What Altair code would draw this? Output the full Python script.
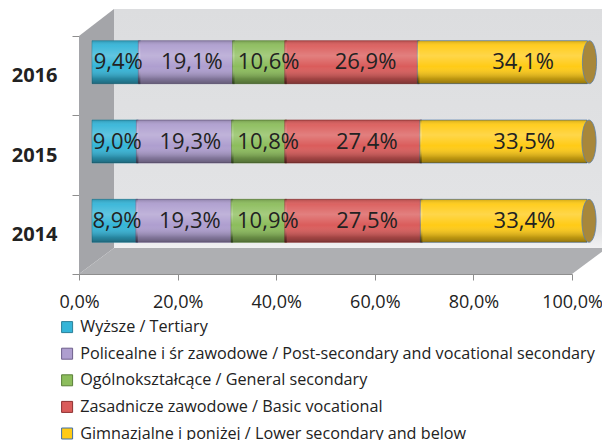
import altair as alt
import pandas as pd

years = ["2016", "2015", "2014"]
categories = [
    "Wyższe / Tertiary",
    "Policealne i śr zawodowe / Post-secondary and vocational secondary",
    "Ogólnokształcące / General secondary",
    "Zasadnicze zawodowe / Basic vocational",
    "Gimnazjalne i poniżej / Lower secondary and below",
]
colors = ["#35B5D8", "#AE9ECF", "#8CBD5C", "#DA5C5B", "#FFCB16"]
strokes = ["#2A7F99", "#6E5F8C", "#5A7F38", "#8E3030", "#3F6FA8"]
values = {
    "2016": [9.4, 19.1, 10.6, 26.9, 34.1],
    "2015": [9.0, 19.3, 10.8, 27.4, 33.5],
    "2014": [8.9, 19.3, 10.9, 27.5, 33.4],
}
x_ticks = [0, 20, 40, 60, 80, 100]

rows = []
for y in years:
    for i, c in enumerate(categories):
        rows.append({"year": y, "cat": c, "order": i, "value": values[y][i]})
df = pd.DataFrame(rows)

W, H = 493, 238
# decorative 3D walls (pixel space, relative to plot origin)
left_wall = pd.DataFrame({"px": [0, 35], "py": [0, -27], "py2": [238, 212]})
floor = pd.DataFrame({"py": [212, 238], "px": [35, 0], "px2": [W + 35, W]})

FONT = "Open Sans"
OFF = 13
YOFF = -13.5

back = alt.Chart(pd.DataFrame({"a": [0]})).mark_rect(
    color=alt.Gradient(
        gradient="linear", x1=0, x2=0, y1=0, y2=1,
        stops=[alt.GradientStop(offset=0, color="#DCDDDF"),
               alt.GradientStop(offset=0.93, color="#E3E4E6"),
               alt.GradientStop(offset=1, color="#F1F1F2")],
    )
).encode(x=alt.value(35), x2=alt.value(W + 35), y=alt.value(-27), y2=alt.value(212))

lw = alt.Chart(left_wall).mark_area(orient="vertical", color="#A4A5A9").encode(
    x=alt.X("px:Q", scale=None, axis=None),
    y=alt.Y("py:Q", scale=None, axis=None),
    y2="py2:Q",
)
fl = alt.Chart(floor).mark_area(orient="horizontal", color="#AEAFB2").encode(
    y=alt.Y("py:Q", scale=None, axis=None),
    x=alt.X("px:Q", scale=None, axis=None),
    x2="px2:Q",
)

base = alt.Chart(df).transform_stack(
    stack="value", groupby=["year"], as_=["x0", "x1"], sort=[alt.SortField("order")]
).transform_calculate(
    # label anchor, spread slightly along the 3D depth like the original
    tx="(datum.x0 + datum.x1) / 2 * 1.048",
    lbl="replace(format(datum.value, '.1f'), '.', ',') + '%'",
)

yenc = alt.Y(
    "year:N",
    sort=years,
    scale=alt.Scale(paddingInner=0, paddingOuter=0),
    axis=alt.Axis(
        title=None, tickBand="extent", labelFont=FONT, labelFontSize=20,
        labelFontWeight="bold", labelColor="#222222", domainColor="#8E8E8E",
        tickColor="#8E8E8E", tickSize=7, labelPadding=15,
    ),
)
xscale = alt.Scale(domain=[0, 100], nice=False)

bars = base.mark_bar(height=43, xOffset=OFF, x2Offset=OFF + 2, yOffset=YOFF, strokeWidth=0.6).encode(
    x=alt.X(
        "x0:Q", scale=xscale,
        axis=alt.Axis(
            title=None, values=x_ticks, grid=False, labelFlush=False,
            labelExpr="replace(format(datum.value, '.1f'), '.', ',') + '%'",
            labelFont=FONT, labelFontSize=18, labelColor="#222222",
            domainColor="#8E8E8E", tickColor="#8E8E8E", tickSize=6, labelPadding=13,
        ),
    ),
    x2="x1:Q",
    y=yenc,
    color=alt.Color(
        "cat:N",
        scale=alt.Scale(domain=categories, range=colors),
        sort=categories,
        legend=alt.Legend(
            title=None, orient="none", legendX=-20, legendY=283, direction="vertical",
            symbolType="square", symbolSize=121, symbolStrokeWidth=1,
            labelFont=FONT, labelFontSize=16.2, labelColor="#222222",
            labelLimit=0, rowPadding=9.6, labelOffset=5,
        ),
    ),
    stroke=alt.Stroke("cat:N", scale=alt.Scale(domain=categories, range=strokes), legend=None),
    order=alt.Order("order:Q"),
)

shade = base.mark_bar(
    height=43, xOffset=OFF, x2Offset=OFF + 2, yOffset=YOFF,
    color=alt.Gradient(
        gradient="linear", x1=0, x2=0, y1=0, y2=1,
        stops=[alt.GradientStop(offset=0, color="rgba(0,0,0,0.18)"),
               alt.GradientStop(offset=0.12, color="rgba(255,255,255,0.05)"),
               alt.GradientStop(offset=0.35, color="rgba(255,255,255,0.22)"),
               alt.GradientStop(offset=0.6, color="rgba(255,255,255,0)"),
               alt.GradientStop(offset=0.88, color="rgba(0,0,0,0.25)"),
               alt.GradientStop(offset=1, color="rgba(0,0,0,0.42)")],
    ),
).encode(x=alt.X("x0:Q", scale=xscale), x2="x1:Q", y=alt.Y("year:N", sort=years))

cap = base.transform_filter("datum.order == 4").mark_point(
    shape="M0,-1 A0.33,1 0 1,1 0,1 A0.33,1 0 1,1 0,-1 Z",
    size=1849, filled=True, fill="#A8873A", stroke="#5B7FA8", strokeWidth=0.8,
    opacity=1, xOffset=OFF + 4, yOffset=YOFF,
).encode(x=alt.X("x1:Q", scale=xscale), y=alt.Y("year:N", sort=years))

text = base.mark_text(
    font=FONT, fontSize=22, color="#222222", xOffset=OFF + 2, yOffset=YOFF, baseline="middle"
).encode(x=alt.X("tx:Q", scale=xscale), y=alt.Y("year:N", sort=years), text="lbl:N")

data_layer = alt.layer(bars, shade, cap, text)
decor = alt.layer(back, lw, fl)

chart = alt.layer(decor, data_layer).resolve_scale(x="independent", y="independent").properties(
    width=W, height=H,
    autosize=alt.AutoSizeParams(type="none"),
    padding={"left": 71, "top": 28, "right": 30, "bottom": 166},
    background="white",
).configure_view(stroke=None)

chart.save("out.html", embed_options={"renderer": "svg", "actions": False})
